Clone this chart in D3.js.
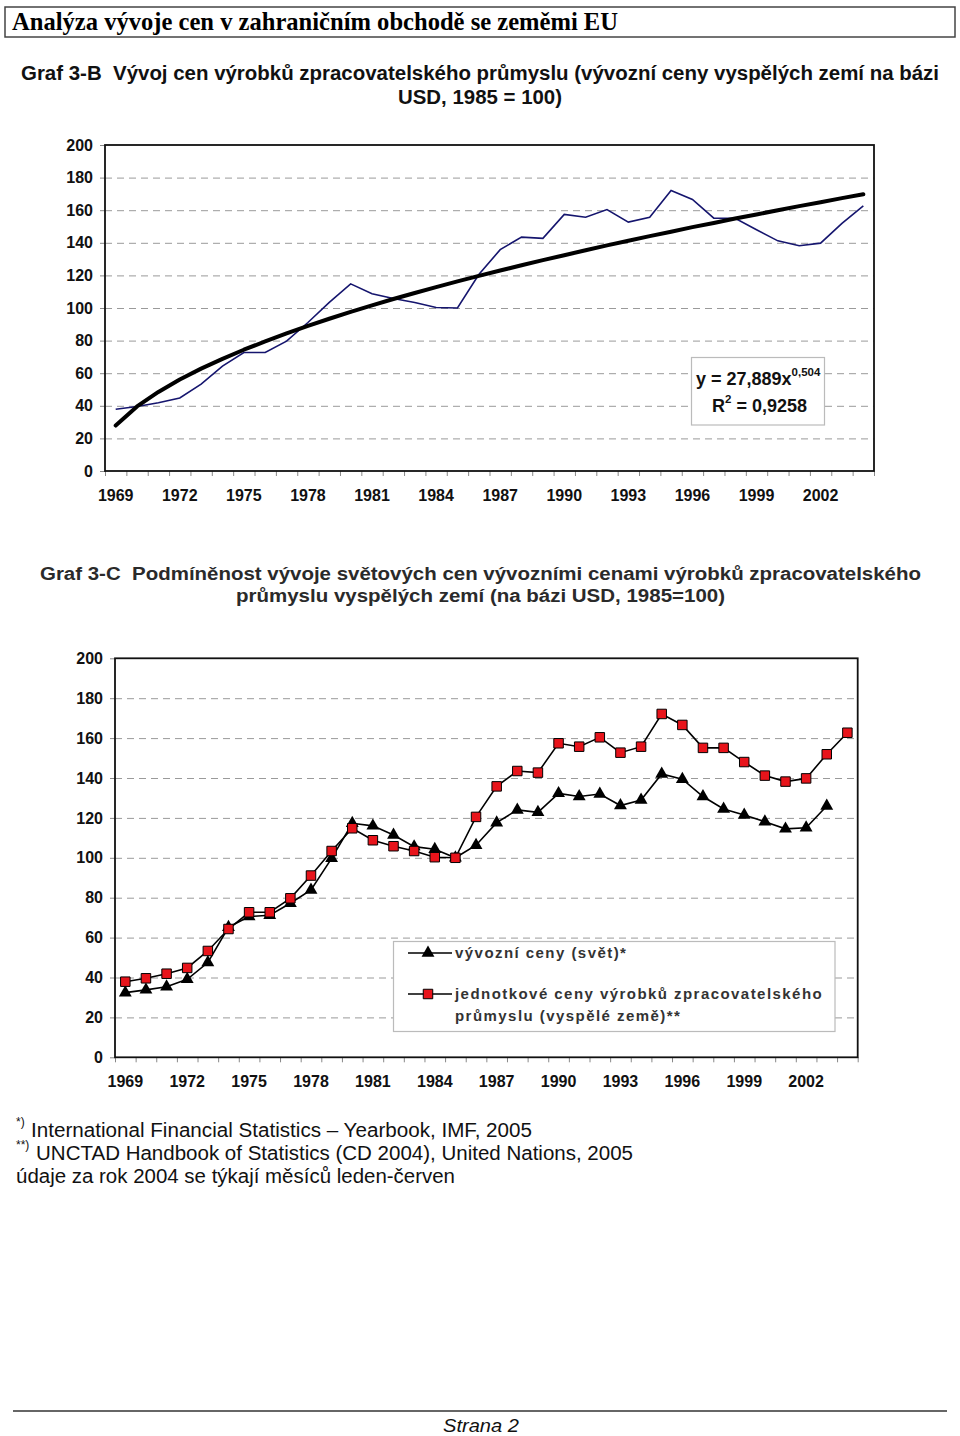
<!DOCTYPE html>
<html>
<head>
<meta charset="utf-8">
<script src="https://cdn.jsdelivr.net/npm/d3@7"></script>
<style>
  body { margin: 0; background: #fff; }
  svg { display: block; font-family: "Liberation Sans", Arial, sans-serif; }
</style>
</head>
<body>
<svg id="page" width="960" height="1436"></svg>
<script>
const years = [1969, 1970, 1971, 1972, 1973, 1974, 1975, 1976, 1977, 1978, 1979, 1980,
  1981, 1982, 1983, 1984, 1985, 1986, 1987, 1988, 1989, 1990, 1991, 1992,
  1993, 1994, 1995, 1996, 1997, 1998, 1999, 2000, 2001, 2002, 2003, 2004];
const yearLabels = [1969, 1972, 1975, 1978, 1981, 1984, 1987, 1990, 1993, 1996, 1999, 2002];
const yTicks = [0, 20, 40, 60, 80, 100, 120, 140, 160, 180, 200];

// jednotkove ceny vyrobku zpracovatelskeho prumyslu (vyspele zeme), 1985 = 100
const unitPrices = [37.9, 39.6, 41.9, 44.8, 53.3, 64.3, 72.7, 72.7, 79.7, 91.1, 103.4, 114.8,
  108.8, 105.8, 103.4, 100.3, 100.0, 120.5, 135.8, 143.5, 142.7, 157.4, 155.7, 160.4,
  152.7, 155.7, 172.1, 166.6, 155.1, 155.1, 148.0, 141.2, 138.2, 139.8, 151.9, 162.7];

// vyvozni ceny (svet), 1985 = 100, bez roku 2004
const worldPrices = [32.4, 33.8, 35.4, 39.1, 47.5, 65.2, 70.5, 71.2, 77.2, 83.9, 99.7, 117.3,
  116.0, 111.4, 105.6, 104.3, 100.0, 106.3, 117.6, 124.0, 122.8, 132.3, 130.7, 132.0,
  126.2, 129.0, 142.0, 139.4, 130.7, 124.5, 121.5, 118.1, 114.5, 115.1, 126.0];

// mocninny trend odecteny z grafu 3-B
const trendValues = [27.9, 39.6, 48.5, 56.1, 62.8, 68.8, 74.4, 79.5, 84.4, 89.0, 93.4, 97.6,
  101.6, 105.5, 109.2, 112.8, 116.3, 119.7, 123.0, 126.2, 129.4, 132.4, 135.4, 138.4,
  141.3, 144.1, 146.8, 149.6, 152.2, 154.9, 157.4, 160.0, 162.5, 164.9, 167.4, 169.8];

const svg = d3.select('#page');

// page header
svg.append('rect')
  .attr('x', 5).attr('y', 7).attr('width', 950).attr('height', 30)
  .attr('fill', 'none').attr('stroke', '#444').attr('stroke-width', 1.5);
svg.append('text')
  .attr('x', 12).attr('y', 30)
  .attr('font-family', '"Liberation Serif", "Times New Roman", serif')
  .attr('font-weight', 'bold').attr('font-size', 25)
  .attr('textLength', 606).attr('lengthAdjust', 'spacingAndGlyphs')
  .text('Analýza vývoje cen v zahraničním obchodě se zeměmi EU');

function title(lines) {
  lines.forEach(l => {
    svg.append('text')
      .attr('x', l.x).attr('y', l.y)
      .attr('text-anchor', 'middle')
      .attr('font-weight', 'bold').attr('font-size', l.size)
      .attr('fill', l.color || '#111')
      .attr('textLength', l.w).attr('lengthAdjust', 'spacingAndGlyphs')
      .style('white-space', 'pre')
      .text(l.t);
  });
}

title([
  { t: 'Graf 3-B  Vývoj cen výrobků zpracovatelského průmyslu (vývozní ceny vyspělých zemí na bázi', x: 480, y: 80, size: 20, w: 918 },
  { t: 'USD, 1985 = 100)', x: 480, y: 104, size: 20, w: 164 }
]);
title([
  { t: 'Graf 3-C  Podmíněnost vývoje světových cen vývozními cenami výrobků zpracovatelského', x: 480.5, y: 580, size: 18, w: 881, color: '#2a2a2a' },
  { t: 'průmyslu vyspělých zemí (na bázi USD, 1985=100)', x: 480.5, y: 602, size: 18, w: 489, color: '#2a2a2a' }
]);

function frame(box) {
  const x = d3.scaleBand().domain(years).range([box.left, box.right]).padding(0);
  const y = d3.scaleLinear().domain([0, 200]).range([box.bottom, box.top]);
  const cx = d => x(d) + x.bandwidth() / 2;
  const w = box.right - box.left;

  // dashed grid
  const grid = svg.append('g')
    .attr('transform', `translate(${box.left},0)`)
    .call(d3.axisLeft(y).tickValues(yTicks.slice(1, -1)).tickSize(-w).tickFormat(''));
  grid.select('.domain').remove();
  grid.selectAll('line').attr('stroke', '#9a9a9a').attr('stroke-dasharray', '7,5');

  // y axis
  const yAxisG = svg.append('g')
    .attr('transform', `translate(${box.left},0)`)
    .call(d3.axisLeft(y).tickValues(yTicks).tickSize(5).tickPadding(7));
  yAxisG.select('.domain').remove();
  yAxisG.selectAll('line').attr('stroke', '#888');
  yAxisG.selectAll('text')
    .attr('font-family', '"Liberation Sans", Arial, sans-serif')
    .attr('font-size', 16).attr('font-weight', 'bold').attr('fill', '#111');

  // x ticks at category boundaries
  const xEdge = d3.scaleLinear().domain([0, years.length]).range([box.left, box.right]);
  const xTickG = svg.append('g')
    .attr('transform', `translate(0,${box.bottom})`)
    .call(d3.axisBottom(xEdge).ticks(years.length).tickSize(5).tickFormat(''));
  xTickG.select('.domain').remove();
  xTickG.selectAll('line').attr('stroke', '#888');

  const xAxisG = svg.append('g')
    .attr('transform', `translate(0,${box.bottom})`)
    .call(d3.axisBottom(x).tickValues(yearLabels).tickSize(0).tickPadding(box.labelPad));
  xAxisG.select('.domain').remove();
  xAxisG.selectAll('text')
    .attr('font-family', '"Liberation Sans", Arial, sans-serif')
    .attr('font-size', 16).attr('font-weight', 'bold').attr('fill', '#111');

  return { x, y, cx };
}

function border(box) {
  svg.append('rect')
    .attr('x', box.left).attr('y', box.top)
    .attr('width', box.right - box.left).attr('height', box.bottom - box.top)
    .attr('fill', 'none').attr('stroke', '#111').attr('stroke-width', 1.8);
}

// ---- Graf 3-B ----
const boxB = { left: 105, right: 874, top: 145, bottom: 471, labelPad: 19 };
const fB = frame(boxB);

svg.append('path')
  .datum(unitPrices)
  .attr('fill', 'none').attr('stroke', '#15156e').attr('stroke-width', 1.6)
  .attr('d', d3.line().x((d, i) => fB.cx(years[i])).y(d => fB.y(d)));

svg.append('path')
  .datum(trendValues)
  .attr('fill', 'none').attr('stroke', '#000').attr('stroke-width', 4)
  .attr('stroke-linecap', 'round').attr('stroke-linejoin', 'round')
  .attr('d', d3.line().x((d, i) => fB.cx(years[i])).y(d => fB.y(d)));

border(boxB);

const eq = svg.append('g');
eq.append('rect')
  .attr('x', 691.5).attr('y', 357.5).attr('width', 133).attr('height', 67.5)
  .attr('fill', '#fff').attr('stroke', '#bbb').attr('stroke-width', 1.2);
const eq1 = eq.append('text')
  .attr('x', 696).attr('y', 385)
  .attr('font-size', 18).attr('font-weight', 'bold').attr('fill', '#111');
eq1.append('tspan').text('y = 27,889x');
eq1.append('tspan').attr('font-size', 11.5).attr('dy', -9).text('0,504');
const eq2 = eq.append('text')
  .attr('x', 712).attr('y', 412)
  .attr('font-size', 18).attr('font-weight', 'bold').attr('fill', '#111');
eq2.append('tspan').text('R');
eq2.append('tspan').attr('font-size', 11.5).attr('dy', -9).text('2');
eq2.append('tspan').attr('dy', 9).text(' = 0,9258');

// ---- Graf 3-C ----
const boxC = { left: 115, right: 857.7, top: 658.3, bottom: 1057.3, labelPad: 18.5 };
const fC = frame(boxC);

const tri = d3.symbol().type(d3.symbolTriangle).size(72);
const sq = d3.symbol().type(d3.symbolSquare).size(90);

svg.append('path')
  .datum(worldPrices)
  .attr('fill', 'none').attr('stroke', '#000').attr('stroke-width', 1.6)
  .attr('d', d3.line().x((d, i) => fC.cx(years[i])).y(d => fC.y(d)));

svg.append('path')
  .datum(unitPrices)
  .attr('fill', 'none').attr('stroke', '#000').attr('stroke-width', 1.6)
  .attr('d', d3.line().x((d, i) => fC.cx(years[i])).y(d => fC.y(d)));

svg.append('g').selectAll('path').data(worldPrices)
  .enter().append('path')
  .attr('d', tri)
  .attr('transform', (d, i) => `translate(${fC.cx(years[i])},${fC.y(d)})`)
  .attr('fill', '#000');

svg.append('g').selectAll('path').data(unitPrices)
  .enter().append('path')
  .attr('d', sq)
  .attr('transform', (d, i) => `translate(${fC.cx(years[i])},${fC.y(d)})`)
  .attr('fill', '#e8141b').attr('stroke', '#000').attr('stroke-width', 1);

border(boxC);

// legend
const lg = svg.append('g');
lg.append('rect')
  .attr('x', 393.5).attr('y', 941.5).attr('width', 441.5).attr('height', 90)
  .attr('fill', '#fff').attr('stroke', '#bbb').attr('stroke-width', 1.2);
const legendItems = [
  { y: 953, symbol: tri, fill: '#000', lines: ['vývozní ceny (svět)*'] },
  { y: 994, symbol: sq, fill: '#e8141b', lines: ['jednotkové ceny výrobků zpracovatelského', 'průmyslu (vyspělé země)**'] }
];
legendItems.forEach(it => {
  lg.append('line')
    .attr('x1', 408).attr('x2', 452).attr('y1', it.y).attr('y2', it.y)
    .attr('stroke', '#000').attr('stroke-width', 1.6);
  lg.append('path')
    .attr('d', it.symbol)
    .attr('transform', `translate(428,${it.y})`)
    .attr('fill', it.fill).attr('stroke', it.fill === '#000' ? 'none' : '#000');
  it.lines.forEach((t, k) => {
    lg.append('text')
      .attr('x', 455).attr('y', it.y + 5 + k * 22)
      .attr('font-size', 15).attr('font-weight', 'bold')
      .attr('letter-spacing', 1.45).attr('fill', '#333')
      .text(t);
  });
});

// footnotes
const notes = [
  { mark: '*)', t: 'International Financial Statistics – Yearbook, IMF, 2005', x: 31, y: 1137, w: 501 },
  { mark: '**)', t: 'UNCTAD Handbook of Statistics (CD 2004), United Nations, 2005', x: 36, y: 1160, w: 597 },
  { mark: '', t: 'údaje za rok 2004 se týkají měsíců leden-červen', x: 16, y: 1183, w: 439 }
];
notes.forEach(n => {
  if (n.mark) {
    svg.append('text')
      .attr('x', 16).attr('y', n.y - 11)
      .attr('font-size', 12).attr('fill', '#111')
      .text(n.mark);
  }
  svg.append('text')
    .attr('x', n.x).attr('y', n.y)
    .attr('font-size', 19.5).attr('fill', '#111')
    .attr('textLength', n.w).attr('lengthAdjust', 'spacingAndGlyphs')
    .text(n.t);
});

// page footer
svg.append('line')
  .attr('x1', 13).attr('x2', 947).attr('y1', 1411).attr('y2', 1411)
  .attr('stroke', '#333').attr('stroke-width', 1.5);
svg.append('text')
  .attr('x', 481).attr('y', 1432)
  .attr('text-anchor', 'middle')
  .attr('font-size', 19).attr('font-style', 'italic').attr('fill', '#111')
  .attr('textLength', 76).attr('lengthAdjust', 'spacingAndGlyphs')
  .text('Strana 2');
</script>
</body>
</html>
